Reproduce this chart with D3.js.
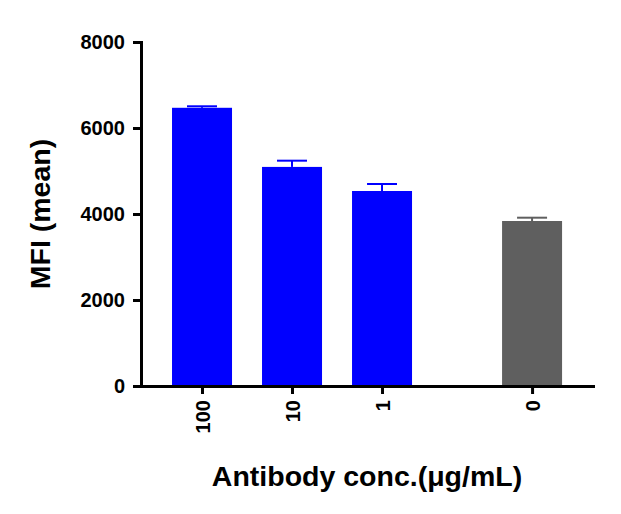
<!DOCTYPE html>
<html>
<head>
<meta charset="utf-8">
<script src="https://cdn.jsdelivr.net/npm/d3@7"></script>
<style>
  body { margin: 0; background: #fff; }
  text { font-family: "Liberation Sans", Arial, sans-serif; font-weight: bold; }
</style>
</head>
<body>
<div id="chart"></div>
<script>
// chart data
var categories = ["100", "10", "1", "0"];
var groupIndex = [0, 0, 0, 1];           // data set each bar belongs to
var meanValues = [6470, 5095, 4535, 3837];
var errValues = [35, 145, 163, 77];
var groupColors = ["#0000ff", "#5f5f5f"];
var yTicks = [0, 2000, 4000, 6000, 8000];

var margin = { left: 141, right: 28, top: 42, bottom: 128 };
var width = 621 - margin.left - margin.right,
    height = 514 - margin.top - margin.bottom;

var svg = d3.select("#chart")
    .append("svg")
        .attr("width", width + margin.left + margin.right)
        .attr("height", height + margin.top + margin.bottom)
        .append("g")
          .attr("transform", "translate(" + margin.left + ", " + margin.top + ")");

// slot position: bar index plus extra space between data sets
var groupGap = 0.667;
function slot(i) { return i + groupIndex[i] * groupGap; }

// X Scale (in slots)
var x = d3.scaleLinear()
    .domain([-0.678, 4.344])
    .range([0, width]);
var step = x(1) - x(0);
var barW = step * 2 / 3;

// Y Scale
var y = d3.scaleLinear()
    .domain([0, 8000])
    .range([height, 0]);

// Bars
svg.selectAll("rect.bar")
    .data(meanValues)
    .enter()
    .append("rect")
        .attr("class", "bar")
        .attr("x", function(d, i){ return x(slot(i)) - barW / 2; })
        .attr("y", function(d){ return y(d); })
        .attr("width", barW)
        .attr("height", function(d){ return height - y(d); })
        .attr("fill", function(d, i){ return groupColors[groupIndex[i]]; });

// Error bars (upper only)
var errs = svg.selectAll("g.err")
    .data(meanValues)
    .enter()
    .append("g")
        .attr("class", "err")
        .attr("stroke", function(d, i){ return groupColors[groupIndex[i]]; })
        .attr("stroke-width", 2);

errs.append("line")
    .attr("x1", function(d, i){ return x(slot(i)); })
    .attr("x2", function(d, i){ return x(slot(i)); })
    .attr("y1", function(d){ return y(d); })
    .attr("y2", function(d, i){ return y(d + errValues[i]); });

errs.append("line")
    .attr("x1", function(d, i){ return x(slot(i)) - 15; })
    .attr("x2", function(d, i){ return x(slot(i)) + 15; })
    .attr("y1", function(d, i){ return y(d + errValues[i]); })
    .attr("y2", function(d, i){ return y(d + errValues[i]); });

// Y Axis
var yAxisGroup = svg.append("g")
    .attr("class", "y axis")
    .call(d3.axisLeft(y)
        .tickValues(yTicks)
        .tickSize(8)
        .tickPadding(8)
        .tickSizeOuter(0)
        .tickFormat(d3.format("d")));

// X Axis
var xAxisGroup = svg.append("g")
    .attr("class", "x axis")
    .attr("transform", "translate(0," + height + ")")
    .call(d3.axisBottom(x)
        .tickValues(categories.map(function(c, i){ return slot(i); }))
        .tickSize(8)
        .tickSizeOuter(0)
        .tickFormat(function(d, i){ return categories[i]; }));

svg.selectAll(".axis path, .axis line")
    .attr("stroke", "#000")
    .attr("stroke-width", 3);
svg.selectAll(".axis path").attr("stroke-linecap", "square");

yAxisGroup.selectAll("text")
    .attr("font-size", "20px")
    .attr("fill", "#000");

xAxisGroup.selectAll("text")
    .attr("font-size", "20px")
    .attr("fill", "#000")
    .attr("transform", "rotate(-90)")
    .attr("text-anchor", "end")
    .attr("dy", "0.35em")
    .attr("x", -14)
    .attr("y", 0);

// X Label
svg.append("text")
    .attr("x", 226)
    .attr("y", height + 100)
    .attr("font-size", "28.5px")
    .attr("text-anchor", "middle")
    .text("Antibody conc.(μg/mL)");

// Y Label
svg.append("text")
    .attr("y", -91)
    .attr("x", -(height / 2) + 0)
    .attr("font-size", "28.5px")
    .attr("text-anchor", "middle")
    .attr("transform", "rotate(-90)")
    .text("MFI (mean)");
</script>
</body>
</html>
